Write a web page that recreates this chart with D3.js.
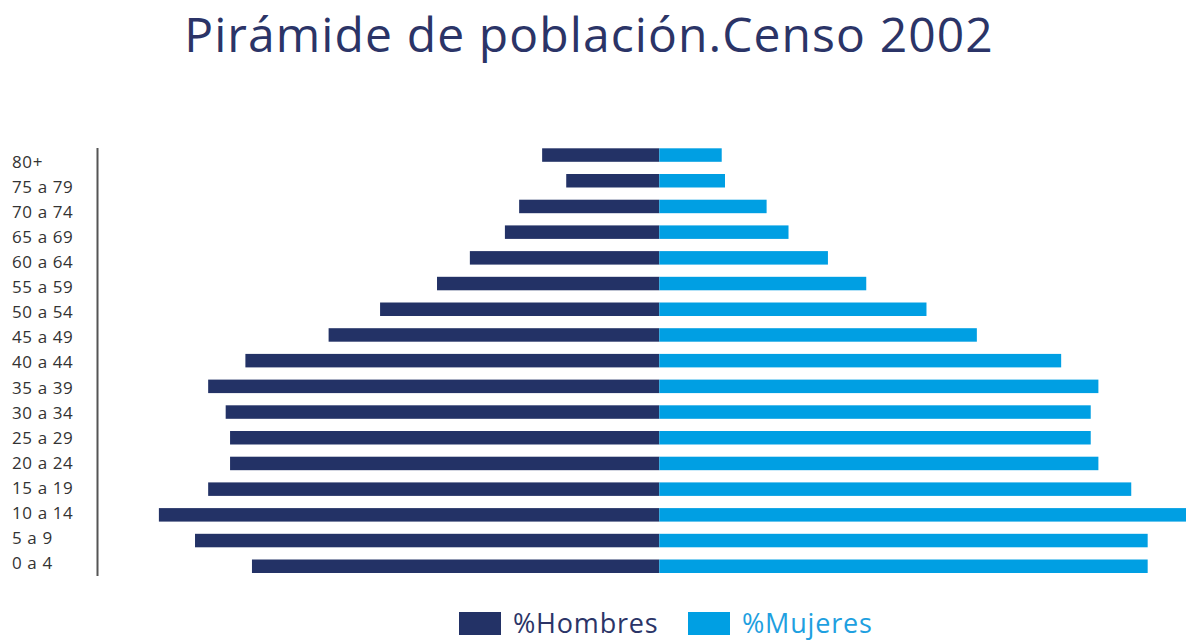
<!DOCTYPE html>
<html>
<head>
<meta charset="utf-8">
<script src="https://cdn.jsdelivr.net/npm/d3@7"></script>
<style>
  html, body { margin: 0; padding: 0; background: #fff; }
  svg { display: block; font-family: "Open Sans", "Noto Sans", sans-serif; }
</style>
</head>
<body>
<main></main>
<script>
const width = 1192;
const height = 642;

// age groups, top to bottom
const ageGroups = ['80+', '75 a 79', '70 a 74', '65 a 69', '60 a 64', '55 a 59', '50 a 54', '45 a 49',
  '40 a 44', '35 a 39', '30 a 34', '25 a 29', '20 a 24', '15 a 19', '10 a 14', '5 a 9', '0 a 4'];
// % of total population
const hombres = [1.07, 0.85, 1.28, 1.41, 1.73, 2.03, 2.55, 3.02, 3.78, 4.12, 3.96, 3.92, 3.92, 4.12, 4.57, 4.24, 3.72];
const mujeres = [0.57, 0.60, 0.98, 1.18, 1.54, 1.89, 2.44, 2.90, 3.67, 4.01, 3.94, 3.94, 4.01, 4.31, 4.81, 4.46, 4.46];
const seriesNames = ['%Hombres', '%Mujeres'];

const colorHombres = '#233266';
const colorMujeres = '#009fe3';

const svg = d3.select('main')
  .append('svg')
  .attr('width', width)
  .attr('height', height);

// title
svg.append('text')
  .attr('x', 589)
  .attr('y', 52)
  .attr('text-anchor', 'middle')
  .style('font-size', '48px')
  .style('letter-spacing', '1.1px')
  .style('fill', '#2b3467')
  .text('Pirámide de población.Censo 2002');

// scales: center of the pyramid at ~659px, ~109.5px per percent
const x = d3.scaleLinear()
  .domain([-5, 5])
  .range([659.3 - 547.5, 659.3 + 547.5]);

const y = d3.scaleBand()
  .domain(ageGroups)
  .range([142.2, 579.1])
  .paddingInner(0.475)
  .paddingOuter(0.2375);

// labels sit on a slightly tighter pitch than the bars
const yLabel = d3.scalePoint()
  .domain(ageGroups)
  .range([162, 563]);

const rows = ageGroups.map((g, i) => ({group: g, h: hombres[i], m: mujeres[i]}));

// men bars (left)
svg.append('g')
  .selectAll('rect')
  .data(rows)
  .enter()
  .append('rect')
  .attr('x', d => x(-d.h))
  .attr('y', d => y(d.group))
  .attr('width', d => x(0) - x(-d.h))
  .attr('height', y.bandwidth())
  .style('fill', colorHombres);

// women bars (right)
svg.append('g')
  .selectAll('rect')
  .data(rows)
  .enter()
  .append('rect')
  .attr('x', x(0))
  .attr('y', d => y(d.group))
  .attr('width', d => x(d.m) - x(0))
  .attr('height', y.bandwidth())
  .style('fill', colorMujeres);

// vertical axis line
svg.append('line')
  .attr('x1', 97.5).attr('x2', 97.5)
  .attr('y1', 148).attr('y2', 576)
  .style('stroke', '#555')
  .style('stroke-width', 2);

// category labels
svg.append('g')
  .selectAll('text')
  .data(ageGroups)
  .enter()
  .append('text')
  .attr('x', 12)
  .attr('y', d => yLabel(d))
  .attr('dy', '0.35em')
  .style('font-size', '17px')
  .style('letter-spacing', '0.6px')
  .style('fill', '#333')
  .text(d => d);

// legend
const legend = [
  {name: seriesNames[0], color: colorHombres, textColor: '#2b3467', x: 459},
  {name: seriesNames[1], color: colorMujeres, textColor: '#1ea0e0', x: 688}
];
const lg = svg.append('g')
  .selectAll('g')
  .data(legend)
  .enter()
  .append('g')
  .attr('transform', d => `translate(${d.x}, 612)`);

lg.append('rect')
  .attr('width', 42)
  .attr('height', 23)
  .style('fill', d => d.color);

lg.append('text')
  .attr('x', 54)
  .attr('y', 21)
  .style('font-size', '27px')
  .style('letter-spacing', '0.8px')
  .style('fill', d => d.textColor)
  .text(d => d.name);
</script>
</body>
</html>
